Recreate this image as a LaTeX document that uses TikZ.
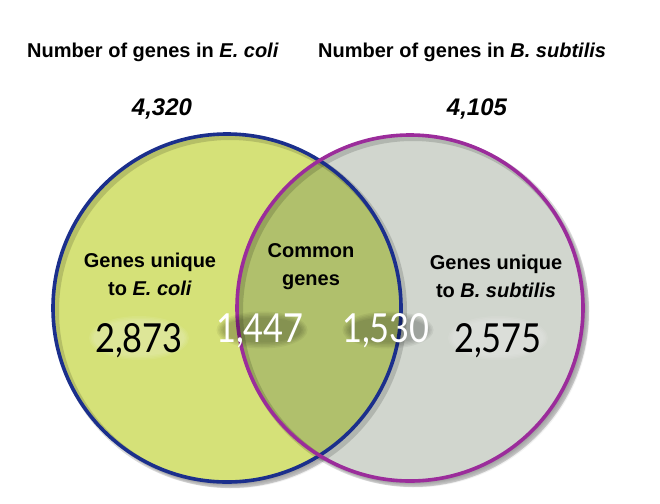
\documentclass[tikz,border=0pt]{standalone}
\usepackage{fontspec}
\setmainfont{Liberation Sans}
\newfontfamily\numfont{Lato}
\definecolor{lfill}{HTML}{D5E178}
\definecolor{rfill}{HTML}{D1D6CE}
\definecolor{cfill}{HTML}{B0C06C}
\definecolor{lline}{HTML}{1B2F8C}
\definecolor{rline}{HTML}{9B2C9B}
\tikzset{
  titletxt/.style={inner sep=0pt, font=\fontsize{20}{24}\selectfont\bfseries},
  totaltxt/.style={inner sep=0pt, font=\fontsize{24}{28}\selectfont\bfseries\itshape},
  labeltxt/.style={inner sep=0pt, align=center, font=\fontsize{20}{28}\selectfont\bfseries},
  numtxt/.style={inner sep=0pt, anchor=base, font=\fontsize{40}{44}\selectfont\numfont},
}
\newcommand\whitenum[4]{%
  \foreach \k in {1,...,5}{
    \fill[black, opacity=0.05] (#2+2,#3-12) ellipse[x radius={38pt+\k*1.5pt}, y radius={11pt+\k*1.5pt}];}
  \node[numtxt, text=white] (#1) at (#2,#3) {\scalebox{0.86}[1]{#4}};}
\newcommand\blacknum[4]{%
  \foreach \k in {1,...,4}{
    \fill[white, opacity=0.07] (#2,#3-14) ellipse[x radius={44pt+\k*1.5pt}, y radius={16pt+\k*1.5pt}];}
  \node[numtxt, text=black] (#1) at (#2,#3) {\scalebox{0.86}[1]{#4}};}
\begin{document}
\begin{tikzpicture}[x=1pt,y=-1pt]
\useasboundingbox (0,0) rectangle (660,503);
\coordinate (L) at (227,308);
\coordinate (R) at (410,308);
% outer soft shadows
\foreach \i in {1,...,6}{
  \fill[black, opacity=0.05] ([shift={(\i*0.9,\i*0.9)}]L) circle[radius=175pt];
  \fill[black, opacity=0.05] ([shift={(\i*0.9,\i*0.9)}]R) circle[radius=174pt];
}
% fills
\fill[lfill] (L) circle[radius=174pt];
\fill[rfill] (R) circle[radius=173pt];
\begin{scope}
  \clip (L) circle[radius=174pt];
  \fill[cfill] (R) circle[radius=173pt];
\end{scope}
% stroke shadows
\draw[black, opacity=0.15, line width=6pt] ([shift={(3,3)}]L) circle[radius=174pt];
\draw[black, opacity=0.15, line width=6pt] ([shift={(3,3)}]R) circle[radius=173pt];
% strokes
\draw[lline, line width=3.6pt] (L) circle[radius=174pt];
\draw[rline, line width=3.6pt] (R) circle[radius=173pt];
% titles
\node[titletxt, anchor=base west] (t1) at (27,57) {Number of genes in \textit{E. coli}};
\node[titletxt, anchor=base west] (t2) at (318,57) {Number of genes in \textit{B. subtilis}};
\node[totaltxt, anchor=base] (n1) at (162,115) {4,320};
\node[totaltxt, anchor=base] (n2) at (477,115) {4,105};
% labels
\node[labeltxt] (lab1) at (150,274) {Genes unique\\to \textit{E. coli}};
\node[labeltxt] (lab2) at (311,267) {Common\\genes};
\node[labeltxt] (lab3) at (496,276) {Genes unique\\to \textit{B. subtilis}};
% numbers
\blacknum{u1}{139}{352}{2,873}
\whitenum{c1}{260}{342}{1,447}
\whitenum{c2}{386}{342}{1,530}
\blacknum{u2}{498}{352}{2,575}
\end{tikzpicture}
\end{document}
